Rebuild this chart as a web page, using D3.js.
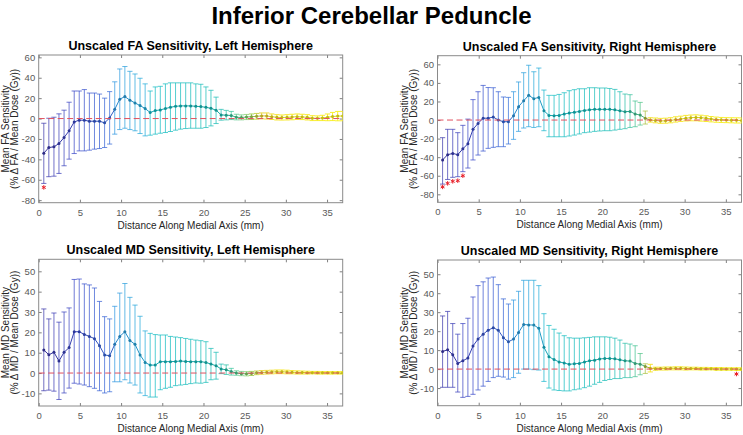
<!DOCTYPE html>
<html>
<head>
<meta charset="utf-8">
<script src="https://cdn.jsdelivr.net/npm/d3@7"></script>
<style>
  body { margin: 0; background: #fff; }
  text { font-family: "Liberation Sans", Arial, sans-serif; }
</style>
</head>
<body>
<svg width="743" height="435"></svg>
<script>
// sample positions along the medial axis (mm)
var distance = [0.62, 1.23, 1.85, 2.46, 3.08, 3.69, 4.31, 4.92, 5.54, 6.15,
  6.77, 7.38, 8.0, 8.61, 9.23, 9.84, 10.46, 11.07, 11.69, 12.3,
  12.92, 13.53, 14.15, 14.76, 15.38, 15.99, 16.61, 17.22, 17.84, 18.45,
  19.07, 19.68, 20.3, 20.91, 21.53, 22.14, 22.76, 23.37, 23.99, 24.6,
  25.22, 25.83, 26.45, 27.06, 27.68, 28.29, 28.91, 29.52, 30.14, 30.75,
  31.37, 31.98, 32.6, 33.21, 33.83, 34.44, 35.06, 35.67, 36.29, 36.9];

var distTicks = [0, 5, 10, 15, 20, 25, 30, 35];
var faTicks = [-80, -60, -40, -20, 0, 20, 40, 60];
var mdTicks = [-10, 0, 10, 20, 30, 40, 50];

// FA, left hemisphere
var faLeftMean = [-34, -28.4, -27.7, -24.5, -18.6, -12, -3.3, -1.6, -1.6, -2.6,
  -2.6, -2.6, -4.2, 0.6, 9, 19, 21.5, 18, 15.3, 12.7,
  9.8, 5.9, 7.8, 8.5, 9.8, 11, 12, 12.4, 12.4, 12.4,
  12, 11.7, 11, 10, 8.2, 3.6, 3.3, 3, 1.3, 1,
  1.5, 1.8, 2.2, 2.6, 2.5, 1.8, 1.2, 1.0, 1.2, 1.5,
  1.8, 1.6, 1.2, 0.4, 0.3, 0.6, 1.2, 2.0, 2.4, 2.5];
var faLeftUpper = [-4.6, 0.3, 1.3, 4.6, 8.2, 16, 27, 27, 28.4, 25,
  25, 24, 20, 26.4, 36, 48.6, 51, 46.3, 43.7, 39.5,
  34, 27, 31, 31.6, 34, 35, 35, 35, 35, 35,
  34, 33.6, 31, 27.7, 21, 9, 8, 7, 4.2, 3.6,
  4, 4.5, 5, 5.5, 5.5, 4.5, 3.8, 3.5, 3.8, 4.2,
  4.5, 4.2, 3.8, 2.8, 2.6, 3.2, 4.5, 6, 7, 7];
var faLeftLower = [-63.6, -57, -56.5, -53.8, -46.3, -39.8, -34.3, -31.7, -31.7, -31,
  -30, -29.4, -28.4, -25, -15.3, -10.8, -9.5, -10.8, -12, -14.7,
  -17, -16.3, -15.3, -14.4, -13.7, -12.7, -11.4, -10.4, -9.8, -9.5,
  -9.5, -9.5, -8.8, -7.2, -4.9, -1.6, -1.3, -1, -1.3, -1.3,
  -1, -0.9, -0.6, -0.3, -0.5, -0.9, -1.4, -1.5, -1.4, -1.2,
  -0.9, -1, -1.4, -2, -2, -2, -2.1, -2, -2.2, -2.2];
var faLeftStarDist = [0.62];
var faLeftStarVal = [-67.5];

// FA, right hemisphere
var faRightMean = [-43, -37.3, -36, -37.3, -31, -25.5, -10, -3.6, 2, 2,
  3.2, 0, -1.8, -1.8, 4.7, 14.4, 20.8, 26.6, 23, 24.4,
  10, 5, 4.7, 5, 6.5, 7.5, 8.3, 9.3, 10.4, 11,
  11.5, 11.5, 11.5, 11.5, 11, 10, 9, 9.3, 6.5, 5.4,
  2, 0, -0.5, -1, -0.8, -0.5, 0.5, 1.0, 2.0, 2.6,
  2.8, 2.6, 2.0, 1.2, 0.6, 0.2, 0, -0.2, -0.3, -0.4];
var faRightUpper = [-19, -10, -10, -13.6, -5.7, 1, 22, 30.5, 37.3, 35,
  34.8, 30.5, 24.8, 24.4, 30.5, 41, 51, 59, 52, 56,
  32.3, 26.6, 26.6, 27.6, 29.4, 31.6, 32.7, 33.7, 33.7, 34.8,
  34.8, 34.5, 34.5, 34, 33, 30.5, 28, 27.3, 20.5, 19,
  9.7, 2.5, 2.2, 1.8, 2, 2.5, 3.5, 4.2, 5, 5.4,
  5.6, 5.2, 4.6, 3.8, 3.2, 2.8, 2.6, 2.5, 2.4, 2.3];
var faRightLower = [-69, -64, -61.7, -61, -55.6, -51.7, -43, -37.7, -33.4, -30.5,
  -29.4, -28.7, -28.7, -25.8, -20.8, -12.2, -8.6, -7.2, -8, -7.2,
  -11.5, -18, -18, -18, -18, -17.2, -16.2, -15, -13.6, -13,
  -12.2, -11.8, -11.5, -11.5, -10.8, -10, -9.3, -8, -7.2, -5.4,
  -4.3, -2.2, -3, -3.5, -3.4, -3, -2.2, -1.5, -1, -0.8,
  -0.8, -1.2, -1.6, -2, -2.4, -2.6, -2.8, -3, -3.2, -3.2];
var faRightStarDist = [0.62, 1.23, 1.85, 2.46, 3.08];
var faRightStarVal = [-72, -68.2, -66, -65.3, -60];

// MD, left hemisphere
var mdLeftMean = [11.3, 9, 10.2, 5.9, 10.2, 12.5, 20.3, 20.3, 19, 18,
  16.9, 13.4, 8.9, 8.5, 14.1, 18, 20.3, 16, 14.1, 8.9,
  5.2, 3.9, 3.9, 5.6, 5.6, 5.6, 5.7, 5.9, 5.7, 5.6,
  5.6, 5.6, 5.2, 4.4, 3.6, 2, 1.6, 0.7, 0, -0.3,
  -0.4, -0.2, 0.1, 0.3, 0.4, 0.5, 0.6, 0.6, 0.5, 0.4,
  0.3, 0.3, 0.2, 0.2, 0.1, 0.1, 0.1, 0.1, 0.1, 0.1];
var mdLeftUpper = [31.5, 26.6, 29.5, 25, 30, 32, 46, 46.2, 43.8, 43.3,
  41.8, 35.2, 27.7, 26.6, 32.8, 39.3, 44, 37.2, 33.4, 27.9,
  20.7, 19.5, 18.9, 18.7, 18.7, 18, 17.7, 17.4, 17, 16.6,
  16.2, 15.9, 15.4, 12.1, 10.2, 4.4, 4, 2.3, 1.1, 0.8,
  0.7, 0.8, 1.0, 1.2, 1.3, 1.4, 1.5, 1.5, 1.4, 1.2,
  1.1, 1.0, 0.9, 0.8, 0.8, 0.7, 0.7, 0.7, 0.7, 0.7];
var mdLeftLower = [-8.7, -8.4, -8.9, -13, -9.8, -7.4, -5, -5.4, -5.9, -6.7,
  -7.5, -8.7, -9.8, -9.2, -4.3, -4.3, -3.3, -4.9, -5.9, -9.8,
  -11.1, -11.8, -11.8, -8.2, -7.5, -7, -6.2, -5.9, -5.6, -5.2,
  -4.9, -5, -4.6, -3.3, -3, -0.3, -0.7, -1, -1.1, -1.3,
  -1.4, -1.2, -0.8, -0.6, -0.5, -0.4, -0.3, -0.3, -0.4, -0.4,
  -0.5, -0.5, -0.5, -0.4, -0.5, -0.5, -0.5, -0.5, -0.5, -0.5];
var mdLeftStarDist = [];
var mdLeftStarVal = [];

// MD, right hemisphere
var mdRightMean = [9.3, 10.2, 7.5, 3, 4.4, 5.8, 12.2, 15.8, 18.4, 20.5,
  21.8, 20.5, 16.5, 14.4, 15.8, 19.3, 23.5, 23.3, 23.2, 21.5,
  11.5, 6.5, 5, 3.8, 3.2, 2.5, 2.8, 3, 3.7, 4.4,
  4.7, 5.3, 5.6, 5.6, 5.4, 4.9, 4.4, 4.2, 3.0, 2.6,
  1.4, 0.5, 0.2, 0.3, 0.3, 0.4, 0.4, 0.4, 0.3, 0.3,
  0.3, 0.2, 0.2, 0.2, 0.1, 0.1, 0.1, 0.1, 0.1, 0];
var mdRightUpper = [28, 30.4, 24, 18.4, 24, 26.8, 38, 44, 46, 48,
  48.5, 44.5, 37, 34.3, 36.4, 41, 46.8, 46.8, 46.8, 44,
  29.2, 23, 21, 19, 17.6, 16.5, 16.3, 16.3, 16.5, 16.7,
  17, 17, 17, 16.8, 16.3, 15.3, 13.6, 13.2, 12.3, 8.2,
  2.8, 2.5, 1.0, 1.0, 1.1, 1.1, 1.2, 1.2, 1.1, 1.0,
  1.0, 0.9, 0.9, 0.8, 0.8, 0.8, 0.7, 0.7, 0.7, 0.7];
var mdRightLower = [-9.6, -9.6, -9.6, -12.1, -14.9, -14.4, -13.3, -11, -9, -6.5,
  -4.5, -3.8, -4.2, -5.3, -4.5, -2.2, 0, 0, -0.3, -0.5,
  -6.5, -10, -11, -11.3, -11.5, -11.5, -10.9, -10.5, -9.8, -9,
  -8, -7, -6, -5.5, -5, -5, -4.5, -4.5, -4, -3,
  -2.3, -1.5, -0.6, -0.5, -0.5, -0.4, -0.4, -0.4, -0.5, -0.4,
  -0.4, -0.5, -0.5, -0.4, -0.6, -0.6, -0.6, -0.6, -0.7, -0.7];
var mdRightStarDist = [36.29];
var mdRightStarVal = [-2.6];

// colour along the axis (mm -> colour)
var leftStops = [[0, "#3b34a6"], [4.5, "#3a48c8"], [8.6, "#3468d8"], [9.2, "#2d96e0"],
  [13.2, "#22aed8"], [13.6, "#12bcc4"], [22, "#1abcb4"], [23.5, "#38c498"],
  [25.5, "#8ccc5c"], [27, "#e8d030"], [29, "#f6e41c"], [37, "#f8f018"]];
var rightStops = [[0, "#3b34a6"], [4, "#3a48c8"], [8.5, "#3468d8"], [9.2, "#2d96e0"],
  [12.6, "#22aed8"], [13.2, "#12bcc4"], [22, "#1abcb4"], [24.6, "#50c488"],
  [25.2, "#a8c040"], [25.8, "#f4e020"], [37, "#f8f018"]];

var xLimits = [0, 36.9];
var plotWidth = 304;

var panels = [
  { title: "Unscaled FA Sensitivity, Left Hemisphere", yl1: "Mean FA Sensitivity",
    yl2: "(% \u0394 FA / Mean Dose (Gy))", left: 38.7, top: 55, bottom: 202.7,
    yDomain: [-82.5, 62.3], yTicks: faTicks, mean: faLeftMean, upper: faLeftUpper,
    lower: faLeftLower, starDist: faLeftStarDist, starVal: faLeftStarVal, stops: leftStops },
  { title: "Unscaled FA Sensitivity, Right Hemisphere", yl1: "Mean FA Sensitivity",
    yl2: "(% \u0394 FA / Mean Dose (Gy))", left: 437.5, top: 55.7, bottom: 202.3,
    yDomain: [-88.6, 69.3], yTicks: faTicks, mean: faRightMean, upper: faRightUpper,
    lower: faRightLower, starDist: faRightStarDist, starVal: faRightStarVal, stops: rightStops },
  { title: "Unscaled MD Sensitivity, Left Hemisphere", yl1: "Mean MD Sensitivity",
    yl2: "(% \u0394 MD / Mean Dose (Gy))", left: 38.7, top: 259.3, bottom: 406,
    yDomain: [-16.2, 55.9], yTicks: mdTicks, mean: mdLeftMean, upper: mdLeftUpper,
    lower: mdLeftLower, starDist: mdLeftStarDist, starVal: mdLeftStarVal, stops: leftStops },
  { title: "Unscaled MD Sensitivity, Right Hemisphere", yl1: "Mean MD Sensitivity",
    yl2: "(% \u0394 MD / Mean Dose (Gy))", left: 437.5, top: 260, bottom: 405.7,
    yDomain: [-19.3, 57.5], yTicks: mdTicks, mean: mdRightMean, upper: mdRightUpper,
    lower: mdRightLower, starDist: mdRightStarDist, starVal: mdRightStarVal, stops: rightStops }
];

var svg = d3.select("svg");

svg.append("text")
  .attr("x", 371.5)
  .attr("y", 24)
  .attr("text-anchor", "middle")
  .style("font-size", "24px")
  .style("font-weight", "bold")
  .style("fill", "#000")
  .text("Inferior Cerebellar Peduncle");

// plain hyphen for negatives, like the original
var plainNum = (d) => String(d);

function drawPanel(p, k) {
  var x = d3.scaleLinear().domain(xLimits).range([p.left, p.left + plotWidth]);
  var y = d3.scaleLinear().domain(p.yDomain).range([p.bottom, p.top]);
  var color = d3.scaleLinear()
    .domain(p.stops.map((s) => s[0]))
    .range(p.stops.map((s) => s[1]))
    .clamp(true);

  var g = svg.append("g");

  g.append("clipPath").attr("id", "clip" + k)
    .append("rect")
    .attr("x", p.left).attr("y", p.top)
    .attr("width", plotWidth).attr("height", p.bottom - p.top);

  // axes: ticks point inward, on all four sides
  var ax = g.append("g").attr("class", "axes");
  ax.append("g")
    .attr("transform", "translate(0," + p.bottom + ")")
    .call(d3.axisBottom(x).tickValues(distTicks).tickSize(-3).tickPadding(6.3).tickFormat(plainNum));
  ax.append("g")
    .attr("transform", "translate(0," + p.top + ")")
    .call(d3.axisTop(x).tickValues(distTicks).tickSize(-3).tickFormat(""));
  ax.append("g")
    .attr("transform", "translate(" + p.left + ",0)")
    .call(d3.axisLeft(y).tickValues(p.yTicks).tickSize(-3).tickPadding(3.5).tickFormat(plainNum));
  ax.append("g")
    .attr("transform", "translate(" + (p.left + plotWidth) + ",0)")
    .call(d3.axisRight(y).tickValues(p.yTicks).tickSize(-3).tickFormat(""));
  ax.selectAll(".domain").remove();
  ax.selectAll(".tick line").attr("stroke", "#808080");
  ax.selectAll(".tick text").style("font-size", "9.5px").attr("fill", "#5a5a5a");

  g.append("rect")
    .attr("x", p.left).attr("y", p.top)
    .attr("width", plotWidth).attr("height", p.bottom - p.top)
    .attr("fill", "none").attr("stroke", "#8a8a8a").attr("stroke-width", 1);

  var rows = distance.map((d, i) => ({ d: d, m: p.mean[i], hi: p.upper[i], lo: p.lower[i] }));
  var plot = g.append("g").attr("clip-path", "url(#clip" + k + ")");

  // error bars
  var eb = plot.selectAll("g.eb").data(rows).enter().append("g").attr("class", "eb")
    .attr("stroke", (r) => color(r.d))
    .attr("stroke-opacity", (r) => (r.d > 25.5 ? 0.9 : 0.72))
    .attr("stroke-width", 1);
  eb.append("line")
    .attr("x1", (r) => x(r.d)).attr("x2", (r) => x(r.d))
    .attr("y1", (r) => y(r.lo)).attr("y2", (r) => y(r.hi));
  eb.append("line")
    .attr("x1", (r) => x(r.d) - 2.6).attr("x2", (r) => x(r.d) + 2.6)
    .attr("y1", (r) => y(r.hi)).attr("y2", (r) => y(r.hi));
  eb.append("line")
    .attr("x1", (r) => x(r.d) - 2.6).attr("x2", (r) => x(r.d) + 2.6)
    .attr("y1", (r) => y(r.lo)).attr("y2", (r) => y(r.lo));

  // mean line, one segment per step
  plot.selectAll("line.seg").data(rows.slice(1)).enter().append("line")
    .attr("class", "seg")
    .attr("x1", (r, i) => x(rows[i].d)).attr("y1", (r, i) => y(rows[i].m))
    .attr("x2", (r) => x(r.d)).attr("y2", (r) => y(r.m))
    .attr("stroke", (r, i) => d3.color(color(rows[i].d)).darker(0.3))
    .attr("stroke-width", 1);

  plot.selectAll("circle").data(rows).enter().append("circle")
    .attr("cx", (r) => x(r.d)).attr("cy", (r) => y(r.m))
    .attr("r", 1.5)
    .attr("fill", (r) => d3.color(color(r.d)).darker(0.7));

  // zero reference
  plot.append("line")
    .attr("x1", x(xLimits[0])).attr("x2", x(xLimits[1]))
    .attr("y1", y(0)).attr("y2", y(0))
    .attr("stroke", "#e2505e").attr("stroke-width", 1)
    .attr("stroke-dasharray", "6,3.5");

  // significance markers
  var stars = p.starDist.map((d, i) => ({ d: d, v: p.starVal[i] }));
  plot.selectAll("path.star").data(stars).enter().append("path")
    .attr("class", "star")
    .attr("transform", (s) => "translate(" + x(s.d) + "," + y(s.v) + ")")
    .attr("d", d3.symbol(d3.symbolAsterisk, 14))
    .attr("fill", "none").attr("stroke", "#e8202a").attr("stroke-width", 1);

  // labels
  var cx = p.left + plotWidth / 2;
  g.append("text")
    .attr("x", cx).attr("y", p.top - 5)
    .attr("text-anchor", "middle")
    .style("font-size", "12.5px").style("font-weight", "bold").attr("fill", "#000")
    .text(p.title);
  g.append("text")
    .attr("x", cx).attr("y", p.bottom + 26)
    .attr("text-anchor", "middle")
    .style("font-size", "10px").attr("fill", "#262626")
    .text("Distance Along Medial Axis (mm)");
  var cy = (p.top + p.bottom) / 2;
  g.append("text")
    .attr("transform", "translate(" + (p.left - 30) + "," + cy + ") rotate(-90)")
    .attr("text-anchor", "middle")
    .style("font-size", "10px").attr("fill", "#262626")
    .text(p.yl1);
  g.append("text")
    .attr("transform", "translate(" + (p.left - 20.5) + "," + cy + ") rotate(-90)")
    .attr("text-anchor", "middle")
    .style("font-size", "10px").attr("fill", "#262626")
    .text(p.yl2);
}

panels.forEach(drawPanel);
</script>
</body>
</html>
